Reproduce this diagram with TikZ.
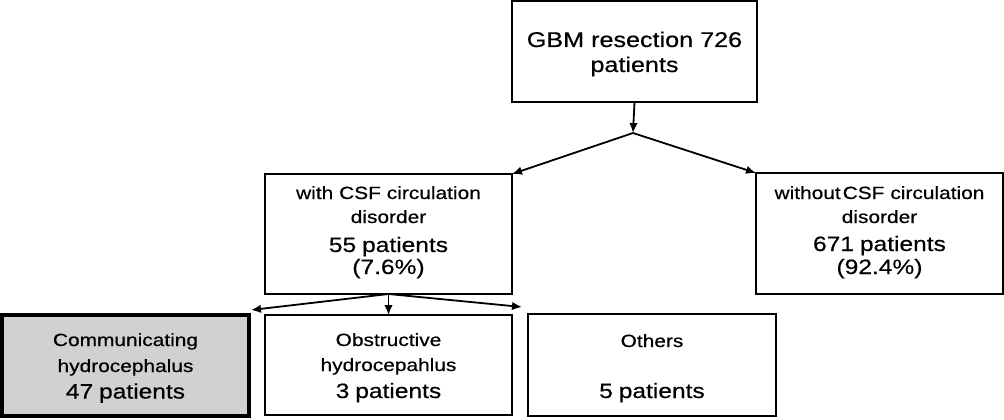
\documentclass[tikz,border=0pt]{standalone}
\usepackage{fontspec}
\setmainfont{Liberation Sans}[FakeStretch=1.18,FakeBold=0.5]
\usetikzlibrary{arrows.meta}
\definecolor{boxgrey}{RGB}{211,208,208}
\newcommand{\bigtxt}{\fontsize{20.8}{24}\selectfont}
\begin{document}
\begin{tikzpicture}[x=1pt,y=-1pt,
  box/.style={draw=black, line width=2pt, inner sep=0pt, outer sep=0pt,
    align=center, anchor=north west, font=\fontsize{17.7}{24}\selectfont},
  arr/.style={line width=1.8pt, -{Latex[length=10pt,width=8.5pt]}}]
\useasboundingbox (0,0) rectangle (1004,420);
\node[box, text width=245pt, text height=46pt, text depth=55pt,
  font=\fontsize{21.3}{24}\selectfont] (top) at (512,1)
  {GBM resection 726\\[1pt]patients};
\node[box, text width=247pt, text height=25pt, text depth=95pt] (midL) at (265,174)
  {with CSF circulation\\disorder\\[5pt]{\bigtxt 55 patients}\\[-2pt]{\bigtxt (7.6\%)}};
\node[box, text width=247pt, text height=26pt, text depth=95pt] (midR) at (756,173)
  {without\hspace{2pt}CSF circulation\\disorder\\[4pt]{\bigtxt 671 patients}\\[-1pt]{\bigtxt (92.4\%)}};
\node[box, line width=4pt, fill=boxgrey, text width=247pt, text height=31pt, text depth=70pt] (comm) at (2,315)
  {Communicating\\[2pt]hydrocephalus\\[2.5pt]{\bigtxt 47 patients}};
\node[box, text width=247pt, text height=31pt, text depth=69pt] (obst) at (265,315)
  {Obstructive\\[1pt]hydrocepahlus\\[3pt]{\bigtxt 3 patients}};
\node[box, text width=248pt, text height=33pt, text depth=69pt] (others) at (528,314)
  {Others\\[27pt]{\bigtxt 5 patients}};
\coordinate (split) at (633,133);
\draw[arr] (top.south) -- (split);
\draw[arr] (split) -- (midL.north east);
\draw[arr] (split) -- (midR.north west);
\draw[arr] (midL.south) -- (obst.north);
\draw[arr] (midL.south) -- ([xshift=2pt,yshift=5pt]comm.north east);
\draw[arr] (midL.south) -- ([xshift=-6pt,yshift=7pt]others.north west);
\end{tikzpicture}
\end{document}
